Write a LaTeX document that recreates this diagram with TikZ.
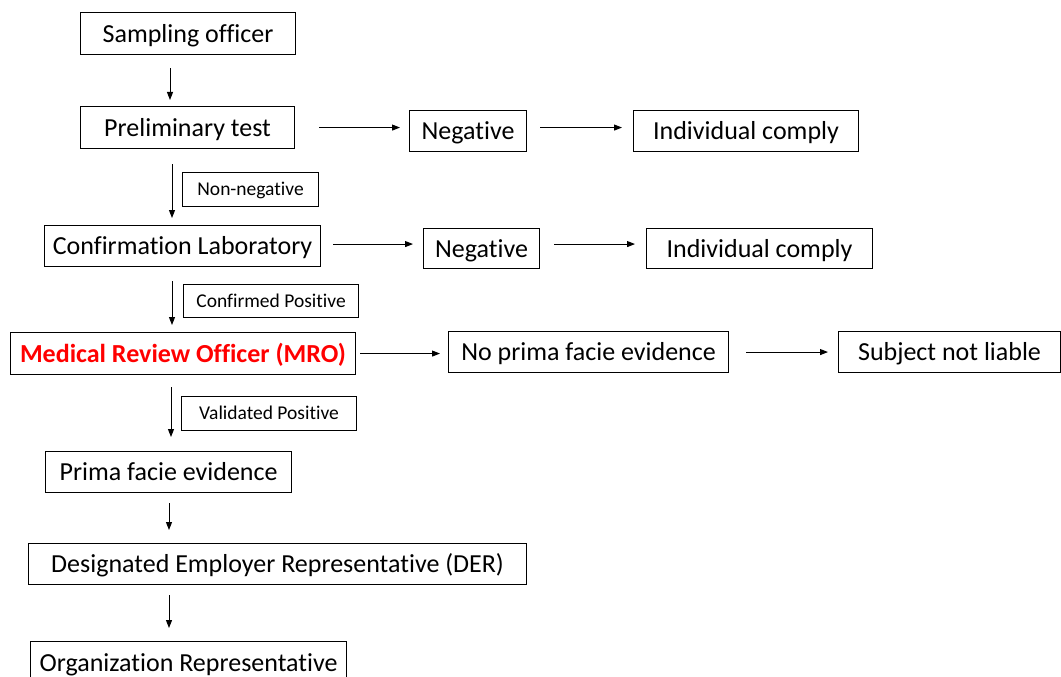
\documentclass[tikz,border=0pt]{standalone}
\usepackage{fontspec}
\setmainfont{Carlito}[RawFeature={-liga}]
\usetikzlibrary{arrows.meta}
\definecolor{mrored}{RGB}{255,0,0}

\begin{document}
\begin{tikzpicture}[x=1pt,y=-1pt,
  box/.style={draw, line width=1.1pt, inner sep=0pt, anchor=north west,
    text height=19pt, text depth=2pt, font=\fontsize{26}{30}\selectfont},
  tag/.style={draw, line width=1.1pt, inner sep=0pt, anchor=north west,
    text height=14pt, text depth=2pt, font=\fontsize{19.5}{23}\selectfont},
  flow/.style={line width=1pt, -{Triangle[length=8pt,width=6pt]}}]

\fill[white] (0,0) rectangle (1061,677);
\useasboundingbox (0,0) rectangle (1061,677);
\clip (0,0) rectangle (1061,677);

% main column
\node[box, minimum width=215pt, minimum height=42pt] (samp) at (80,12) {Sampling officer};
\node[box, minimum width=214pt, minimum height=42pt] (prel) at (80,106) {Preliminary test};
\node[box, minimum width=276pt, minimum height=41pt] (conf) at (44,225) {Confirmation Laboratory};
\node[box, minimum width=345pt, minimum height=42pt, text=mrored,
      font=\fontsize{26}{30}\selectfont\bfseries] (mro) at (10,332) {Medical Review Officer (MRO)};
\node[box, minimum width=246pt, minimum height=41pt] (prima) at (45,451) {Prima facie evidence};
\node[box, minimum width=498pt, minimum height=41pt] (der) at (28,543) {Designated Employer Representative (DER)};
\node[box, minimum width=316pt, minimum height=42pt] (org) at (30,641) {Organization Representative};

% side branches
\node[box, minimum width=117pt, minimum height=41pt] (neg1) at (409,110) {Negative};
\node[box, minimum width=225pt, minimum height=41pt] (ind1) at (633,110) {Individual comply};
\node[box, minimum width=116pt, minimum height=40pt] (neg2) at (423,228) {Negative};
\node[box, minimum width=226pt, minimum height=40pt] (ind2) at (646,228) {Individual comply};
\node[box, minimum width=280pt, minimum height=41pt] (nopf) at (448,331) {No prima facie evidence};
\node[box, minimum width=222pt, minimum height=41pt] (notl) at (838,331) {Subject not liable};

% condition labels
\node[tag, minimum width=136pt, minimum height=34pt] (lnn) at (182,172) {Non-negative};
\node[tag, minimum width=175pt, minimum height=33pt] (lcp) at (183,284) {Confirmed Positive};
\node[tag, minimum width=175pt, minimum height=34pt] (lvp) at (181,396) {Validated Positive};

% column positions of the vertical arrows
\coordinate (c1) at (170,0);
\coordinate (c2) at (172,0);
\coordinate (c3) at (171,0);
\coordinate (c4) at (169,0);

% vertical flow
\draw[flow, shorten <=13pt, shorten >=6pt] (samp.south -| c1) -- (prel.north -| c1);
\draw[flow, shorten <=15pt, shorten >=7pt] (prel.south -| c2) -- (conf.north -| c2);
\draw[flow, shorten <=14pt, shorten >=7pt] (conf.south -| c2) -- (mro.north -| c2);
\draw[flow, shorten <=12pt, shorten >=14pt] (mro.south -| c3) -- (prima.north -| c3);
\draw[flow, shorten <=10pt, shorten >=13pt] (prima.south -| c4) -- (der.north -| c4);
\draw[flow, shorten <=10pt, shorten >=13pt] (der.south -| c4) -- (org.north -| c4);

% horizontal flow
\draw[flow, shorten <=24pt, shorten >=9pt] (prel.east) -- (neg1.west |- prel.east);
\draw[flow, shorten <=13pt, shorten >=11pt] (neg1.east |- prel.east) -- (ind1.west |- prel.east);
\coordinate (r2) at ([yshift=2pt]conf.east);
\draw[flow, shorten <=12pt, shorten >=10pt] (r2) -- (neg2.west |- r2);
\draw[flow, shorten <=14pt, shorten >=11pt] (neg2.east |- r2) -- (ind2.west |- r2);
\draw[flow, shorten <=4pt, shorten >=8pt] (mro.east) -- (nopf.west |- mro.east);
\draw[flow, shorten <=17pt, shorten >=10pt] (nopf.east) -- (notl.west |- nopf.east);
\end{tikzpicture}
\end{document}
